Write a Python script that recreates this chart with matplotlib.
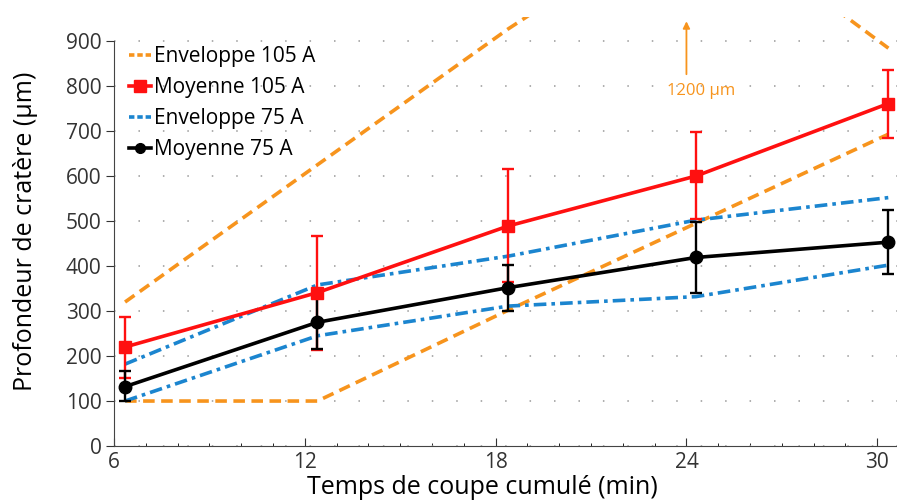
import numpy as np
import matplotlib.pyplot as plt
from matplotlib.lines import Line2D

plt.rcParams['font.family'] = ['Open Sans', 'DejaVu Sans']

# données
temps = [6.35, 12.4, 18.4, 24.3, 30.35]
env105_haut = [320, 625, 927, 1200, 884]
env105_bas = [100, 100, 302, 495, 693]
moy105 = [220, 341, 489, 600, 761]
err105_haut = [67, 125, 126, 98, 74]
err105_bas = [69, 128, 124, 96, 76]
env75_haut = [182, 358, 422, 502, 552]
env75_bas = [100, 245, 311, 332, 402]
moy75 = [132, 275, 352, 419, 453]
err75_haut = [35, 60, 50, 79, 71]
err75_bas = [32, 60, 52, 78, 71]

orange = '#F7941D'
bleu = '#1B85CF'
rouge = '#FF1010'
tirets = (0, (3.2, 1.8))
mixte = (0, (3.5, 1.4, 1, 1.4))

fig = plt.figure(figsize=(8.97, 5.04), dpi=100)
ax = fig.add_axes([0.127, 0.115, 0.873, 0.851])

ax.plot(temps, env105_haut, color=orange, ls=tirets, lw=2.6)
ax.plot(temps, env105_bas, color=orange, ls=tirets, lw=2.6)
ax.plot(temps, env75_haut, color=bleu, ls=mixte, lw=2.6)
ax.plot(temps, env75_bas, color=bleu, ls=mixte, lw=2.6)
ax.errorbar(temps, moy105, yerr=[err105_bas, err105_haut], color=rouge, lw=2.6,
            marker='s', ms=9, elinewidth=1.7, capsize=4, capthick=1.7)
ax.errorbar(temps, moy75, yerr=[err75_bas, err75_haut], color='black', lw=2.6,
            marker='o', ms=9, elinewidth=1.7, capsize=4, capthick=1.7)

ax.annotate('', xy=(24.0, 950), xytext=(24.0, 820),
            arrowprops=dict(arrowstyle='-|>', color=orange, lw=1.3, mutation_scale=10),
            annotation_clip=False)
ax.text(24.45, 788, '1200 µm', color=orange, fontsize=12, ha='center', va='center')

ax.set_xlim(6, 30.62)
ax.set_ylim(0, 953)
ax.set_xticks([6, 12, 18, 24, 30])
ax.set_yticks(np.arange(0, 1000, 100))
ax.set_xticks(np.arange(6, 31, 1), minor=True)
ax.tick_params(axis='x', direction='in', length=6, labelsize=15, colors='#333333', pad=4)
ax.tick_params(axis='x', which='minor', direction='in', length=2)
ax.tick_params(axis='y', direction='out', length=6, labelsize=15, colors='#333333', pad=3)
for s in ['top', 'right']:
    ax.spines[s].set_visible(False)
ax.spines['left'].set_bounds(0, 900)
ax.spines['left'].set_color('#444444')
ax.spines['bottom'].set_color('#444444')
ax.yaxis.grid(True, color='#999999', ls=(0, (1, 15)), lw=1.1)
ax.set_axisbelow(True)

ax.set_xlabel('Temps de coupe cumulé (min)', fontsize=18, labelpad=0)
ax.xaxis.set_label_coords(0.47, -0.068)
ax.set_ylabel('Profondeur de cratère (µm)', fontsize=18, labelpad=20)

poignees = [
    Line2D([], [], color=orange, ls=(0, (1.5, 0.8)), lw=2.6),
    Line2D([], [], color=rouge, lw=2.6, marker='s', ms=9),
    Line2D([], [], color=bleu, ls=(0, (1.5, 0.8)), lw=2.6),
    Line2D([], [], color='black', lw=2.6, marker='o', ms=7),
]
etiquettes = ['Enveloppe 105 A', 'Moyenne 105 A', 'Enveloppe 75 A', 'Moyenne 75 A']
ax.legend(poignees, etiquettes, loc='upper left', bbox_to_anchor=(0.0, 0.967), frameon=False,
          fontsize=15, handlelength=1.1, handletextpad=0.1, labelspacing=0.48, borderaxespad=0.3)

fig.savefig('out.png', dpi=100)
